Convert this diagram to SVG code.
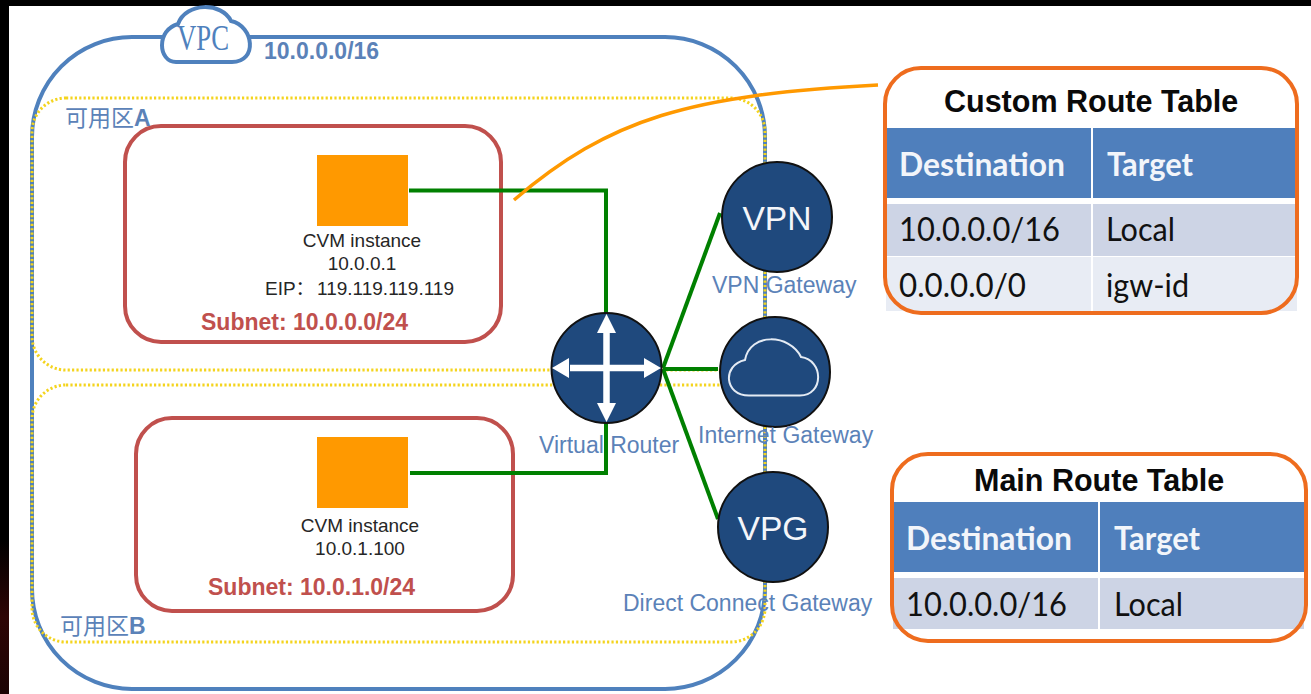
<svg xmlns="http://www.w3.org/2000/svg" width="1311" height="694" viewBox="0 0 1311 694">
<style>
text{font-family:"Liberation Sans","Noto Sans CJK SC",sans-serif}
.vpc{fill:none;stroke:#4f81bd;stroke-width:4}
.az{fill:none;stroke:#f4d41e;stroke-width:3;stroke-dasharray:2.2 2.2}
.subnet{fill:#fff;stroke:#c0504d;stroke-width:4}
.sq{fill:#ff9900}
.link{fill:none;stroke:#008000;stroke-width:4}
.circle{fill:#1f497d;stroke:#111;stroke-width:2}
.cvm{font-size:19px;fill:#262626;text-anchor:middle}
.ip{font-size:23px;font-weight:bold;fill:#c0504d}
.lbl{font-size:23px;fill:#5b82b8}
.zone{font-size:23px;fill:#5b82b8}
.big{font-size:33.6px;fill:#f4f6fa}
.box{fill:none;stroke:#ee6c1e;stroke-width:4}
.title{font-size:30.5px;font-weight:bold;fill:#0a0a0a}
.head{fill:#4f7fbc}.r1{fill:#cdd4e5}.r2{fill:#e8ecf4}
.th{font-family:Lato,"Open Sans",sans-serif;font-size:33px;font-weight:bold;fill:#f2f5fa}
.td{font-family:Lato,"Open Sans",sans-serif;font-size:33px;fill:#111}
.w{fill:none;stroke:#fff;stroke-width:6.500}
.wh{fill:#fff}
</style>
<defs>
<linearGradient id="edge" x1="0" y1="0" x2="0" y2="1"><stop offset="0" stop-color="#000"/><stop offset=".5" stop-color="#2e0505"/><stop offset="1" stop-color="#1c0303"/></linearGradient>
</defs>
<rect id="background" width="1311" height="694" fill="#fff"/>
<rect width="1311" height="6" fill="#000"/>
<rect width="9" height="694" fill="#000"/>
<rect y="540" width="9" height="154" fill="url(#edge)"/>

<g id="vpc">
<rect class="vpc" x="32" y="37" width="733" height="652" rx="100" ry="100"/>
<path d="M176,62C158,62 156,30 178,24C186,2 222,2 231,21C254,26 258,62 232,62Z" fill="#fff" stroke="#4f81bd" stroke-width="4"/>
<text x="177" y="50" font-size="36" textLength="52" lengthAdjust="spacingAndGlyphs" fill="#4f81bd" style="font-family:'Liberation Serif',serif">VPC</text>
<text x="264" y="59" font-size="23" font-weight="bold" fill="#5b82b8">10.0.0.0/16</text>
</g>

<g id="zone-a">
<rect class="az" x="32" y="98" width="733" height="272" rx="34" ry="34"/>
<text class="zone" x="65" y="126">可用区<tspan font-weight="bold">A</tspan></text>
</g>
<g id="zone-b">
<rect class="az" x="32" y="385" width="733" height="257" rx="34" ry="34"/>
<text class="zone" x="60" y="634">可用区<tspan font-weight="bold">B</tspan></text>
</g>

<g id="subnet-a">
<rect class="subnet" x="125" y="126" width="376" height="216" rx="36" ry="36"/>
<text class="ip" x="201" y="330">Subnet: 10.0.0.0/24</text>
</g>
<g id="subnet-b">
<rect class="subnet" x="136" y="418" width="377" height="193" rx="36" ry="36"/>
<text class="ip" x="208" y="595">Subnet: 10.0.1.0/24</text>
</g>

<g id="connectors">
<path class="link" d="M409,190.500H606V320"/>
<path class="link" d="M410,473H606V420"/>
<path class="link" d="M663,368L720,213"/>
<path class="link" d="M663,369H718"/>
<path class="link" d="M663,369L718,519"/>
<path d="M514,200C610,118 690,95 878,85" fill="none" stroke="#ff9900" stroke-width="3.500"/>
</g>

<g id="cvm-a">
<rect class="sq" x="317" y="155" width="91" height="71"/>
<text class="cvm" x="362" y="247">CVM instance</text>
<text class="cvm" x="362" y="270">10.0.0.1</text>
<text class="cvm" x="265" y="295" style="text-anchor:start">EIP：<tspan x="317">119.119.119.119</tspan></text>
</g>
<g id="cvm-b">
<rect class="sq" x="317" y="437" width="91" height="71"/>
<text class="cvm" x="360" y="532">CVM instance</text>
<text class="cvm" x="360" y="555">10.0.1.100</text>
</g>

<g id="virtual-router">
<circle class="circle" cx="606.500" cy="368" r="55"/>
<path class="w" d="M606.500,330V406M570,368H644"/>
<path class="wh" d="M606.500,314L616,333H597ZM606.500,422L616,403H597ZM552,368L569,358V378ZM661,368L644,358V378Z"/>
<text class="lbl" x="539" y="453">Virtual Router</text>
</g>
<g id="vpn-gateway">
<circle class="circle" cx="777" cy="217" r="55"/>
<text class="big" x="777" y="230" text-anchor="middle">VPN</text>
<text class="lbl" x="712" y="293">VPN Gateway</text>
</g>
<g id="internet-gateway">
<circle class="circle" cx="775" cy="372" r="55"/>
<path d="M749,395.500C724,395.500 722,365 745,360C750,332 790,334 801,357C824,360 824,395.500 800,395.500Z" fill="none" stroke="#e4ebf4" stroke-width="2"/>
<text class="lbl" x="698" y="443">Internet Gateway</text>
</g>
<g id="direct-connect-gateway">
<circle class="circle" cx="773" cy="527" r="55"/>
<text class="big" x="773" y="540" text-anchor="middle">VPG</text>
<text class="lbl" x="623" y="611">Direct Connect Gateway</text>
</g>

<g id="custom-route-table">
<rect x="886" y="128" width="205" height="70" class="head"/><rect x="1093" y="128" width="204" height="70" class="head"/>
<rect x="886" y="204" width="205" height="52" class="r1"/><rect x="1093" y="204" width="204" height="52" class="r1"/>
<rect x="886" y="257" width="205" height="54" class="r2"/><rect x="1093" y="257" width="204" height="54" class="r2"/>
<rect class="box" x="885" y="68" width="412" height="245" rx="36" ry="36"/>
<text class="title" x="944" y="112">Custom Route Table</text>
<text class="th" x="899" y="175.500" textLength="166" lengthAdjust="spacingAndGlyphs">Destination</text>
<text class="th" x="1107" y="175.500" textLength="86" lengthAdjust="spacingAndGlyphs">Target</text>
<text class="td" x="899" y="240.500" textLength="161" lengthAdjust="spacingAndGlyphs">10.0.0.0/16</text>
<text class="td" x="1106" y="240.500" textLength="69" lengthAdjust="spacingAndGlyphs">Local</text>
<text class="td" x="899" y="296.500" textLength="127" lengthAdjust="spacingAndGlyphs">0.0.0.0/0</text>
<text class="td" x="1106" y="296.500" textLength="83" lengthAdjust="spacingAndGlyphs">igw-id</text>
</g>

<g id="main-route-table">
<rect x="893" y="502" width="205" height="70" class="head"/><rect x="1100" y="502" width="204" height="70" class="head"/>
<rect x="893" y="578" width="205" height="51" class="r1"/><rect x="1100" y="578" width="204" height="51" class="r1"/>
<rect class="box" x="892" y="454" width="414" height="187" rx="36" ry="36"/>
<text class="title" x="974" y="491">Main Route Table</text>
<text class="th" x="906" y="549.500" textLength="166" lengthAdjust="spacingAndGlyphs">Destination</text>
<text class="th" x="1114" y="549.500" textLength="86" lengthAdjust="spacingAndGlyphs">Target</text>
<text class="td" x="906" y="615.500" textLength="161" lengthAdjust="spacingAndGlyphs">10.0.0.0/16</text>
<text class="td" x="1114" y="615.500" textLength="69" lengthAdjust="spacingAndGlyphs">Local</text>
</g>
</svg>
